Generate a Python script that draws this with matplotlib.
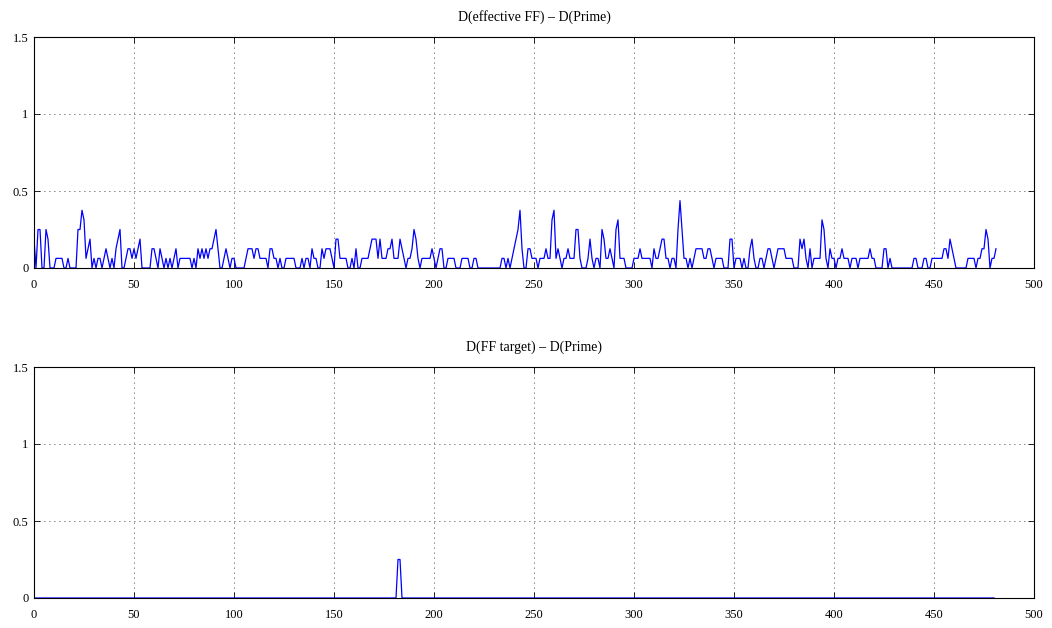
import matplotlib
matplotlib.use("Agg")
import matplotlib.pyplot as plt
import numpy as np

plt.rcParams['font.family'] = ['Liberation Serif', 'DejaVu Serif']

e = 0.0625
# D(effective FF) - D(Prime), in units of 1/16
top_units = [
    3,0,4,4,0,0,4,3,0,0, 0,1,1,1,1,0,0,1,0,0, 0,0,4,4,6,5,1,2,3,0, 1,0,1,1,0,1,2,1,0,1, 0,2,3,4,0,0,1,2,
    2,1,2,1,2,3,0,0,0,0, 0,2,2,1,0,2,1,0,1,0, 1,0,1,2,0,1,1,1,1,1, 1,0,1,0,2,1,2,1,2,1, 2,2,3,4,2,0,0,1,2,1,
    0,1,1,0,0,0,0,0,1,2, 2,2,1,2,2,1,1,1,1,0, 2,2,1,1,0,1,0,0,1,1, 1,1,1,0,0,0,1,0,1,1, 0,2,1,1,0,0,2,1,2,2,
    2,1,0,3,3,1,1,1,1,0, 0,1,0,2,0,0,1,1,1,1, 2,3,3,3,1,3,1,1,1,2, 2,3,1,1,1,3,2,1,0,1, 1,2,4,3,1,0,1,1,1,1,
    1,2,1,0,1,2,2,0,0,1, 1,1,1,0,0,0,1,1,1,1, 0,0,1,1,0,0,0,0,0,0, 0,0,0,0,0,0,1,1,0,1, 0,1,2,3,4,6,2,0,0,2,
    2,1,1,1,0,1,1,1,2,1, 1,5,6,1,2,1,0,1,1,2, 1,1,1,4,4,1,0,0,0,1, 3,1,0,1,1,0,4,3,1,1, 2,1,0,4,5,1,1,1,0,0,
    0,0,1,1,1,2,1,1,1,1, 1,0,2,1,1,2,3,3,1,1, 0,1,1,0,4,7,4,1,1,0, 1,0,1,2,2,2,2,1,1,2, 2,1,0,1,1,1,1,0,0,0,
    3,3,0,1,1,1,0,1,0,0, 2,3,1,0,0,1,1,0,1,2, 2,1,0,1,2,2,2,2,1,1, 1,1,0,0,0,3,2,3,1,0, 2,0,1,1,1,1,5,4,1,0,
    2,1,1,0,1,1,2,1,1,1, 0,1,1,1,0,1,1,1,1,1, 2,1,1,0,0,0,0,2,2,0, 1,0,0,0,0,0,0,0,0,0, 0,0,1,1,0,0,0,1,1,0,
    0,1,1,1,1,1,1,2,2,1, 3,2,1,0,0,0,0,0,0,1, 1,1,1,0,1,1,2,2,4,3, 0,1,1,2,
]
top_values = [u * e for u in top_units]

# D(FF target) - D(Prime)
bottom_spike_x = [182, 183]
bottom_spike_val = [0.25, 0.25]
n_bottom = 481

x_top = np.arange(len(top_values))
x_bot = np.arange(n_bottom)
bottom_values = np.zeros(n_bottom)
for xi, v in zip(bottom_spike_x, bottom_spike_val):
    bottom_values[xi] = v

titles = ["D(effective FF) \u2013 D(Prime)", "D(FF target) \u2013 D(Prime)"]
xticks = np.arange(0, 501, 50)
yticks = [0, 0.5, 1, 1.5]
ytick_labels = ["0", "0.5", "1", "1.5"]

fig = plt.figure(figsize=(10.52, 6.28), dpi=100)
ax1 = fig.add_axes([34/1052, 1-268/628, 1000/1052, 231/628])
ax2 = fig.add_axes([34/1052, 1-598/628, 1000/1052, 231/628])

for ax, x, y, t in [(ax1, x_top, top_values, titles[0]), (ax2, x_bot, bottom_values, titles[1])]:
    ax.plot(x, y, color='#0000ff', linewidth=0.9)
    ax.set_xlim(0, 500)
    ax.set_ylim(0, 1.5)
    ax.set_xticks(xticks)
    ax.set_xticklabels([str(v) for v in xticks])
    ax.set_yticks(yticks)
    ax.set_yticklabels(ytick_labels)
    ax.grid(True, linestyle=(0, (1, 5)), color='black', linewidth=0.6)
    ax.tick_params(direction='in', length=4, width=0.6, labelsize=9, top=True, right=True)
    ax.tick_params(axis='x', pad=8)
    ax.tick_params(axis='y', pad=4)
    for s in ax.spines.values():
        s.set_linewidth(0.8)
    ax.set_title(t, fontsize=10, pad=12)

fig.savefig("out.png", dpi=100)
